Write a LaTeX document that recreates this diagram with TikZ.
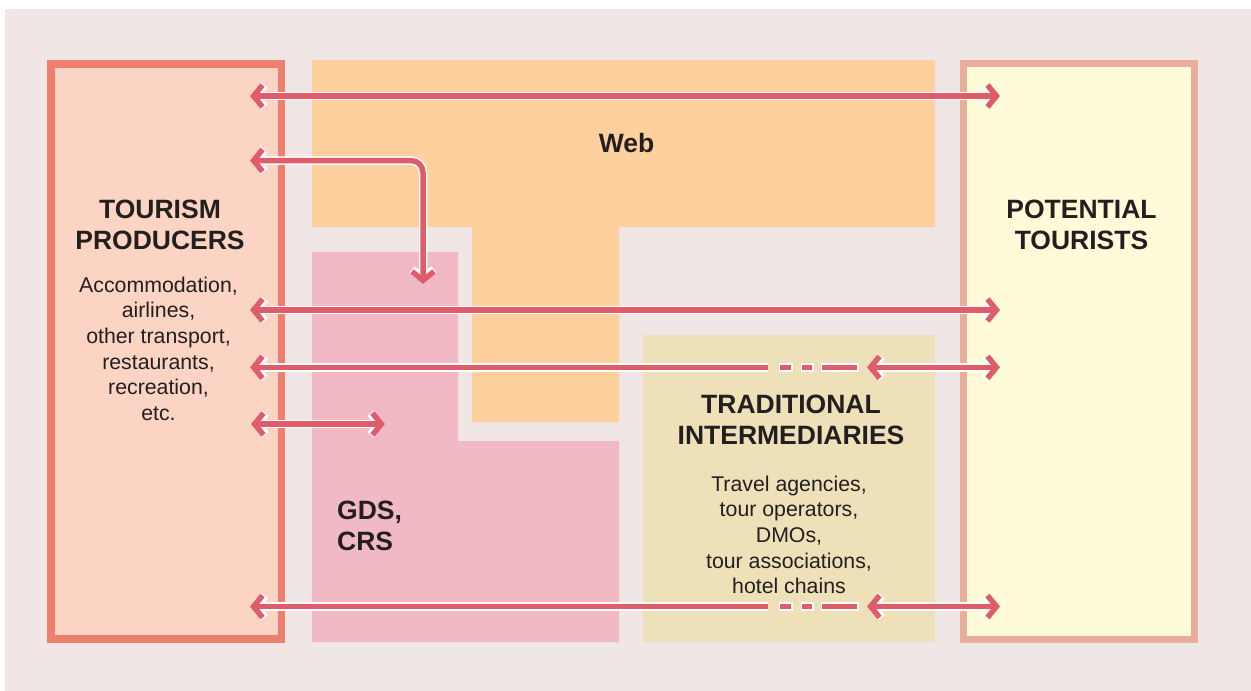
\documentclass[tikz,border=0pt]{standalone}
\usepackage{fontspec}
\setmainfont{Liberation Sans}
\usetikzlibrary{arrows.meta}
\definecolor{bgc}{HTML}{EFE6E5}
\definecolor{prodB}{HTML}{EC7F6E}
\definecolor{prodF}{HTML}{FBD4C3}
\definecolor{webc}{HTML}{FED09E}
\definecolor{gdsc}{HTML}{F0B9C4}
\definecolor{tradc}{HTML}{EEE0B8}
\definecolor{touB}{HTML}{E9AE99}
\definecolor{touF}{HTML}{FFFAD7}
\definecolor{arrc}{HTML}{DF5C6B}
\definecolor{txt}{HTML}{231F20}
\tikzset{
  head/.style={font=\fontsize{26.5}{31}\selectfont\bfseries, text=txt, align=center, inner sep=0pt},
  body/.style={font=\fontsize{21.3}{25.7}\selectfont, text=txt, align=center, inner sep=0pt},
  halo/.style={draw=white, line width=8.5pt},
  arr/.style={draw=arrc, line width=5.5pt},
  >={Straight Barb[length=9pt,width=22pt]}
}
\begin{document}
\begin{tikzpicture}[x=1pt,y=-1pt]
\useasboundingbox (0,0) rectangle (1251,691);
\fill[bgc] (5,9) rectangle (1251,691);
% regions
\draw[line width=7.5pt, draw=prodB, fill=prodF] (51,63.75) rectangle (281.25,638.75);
\fill[webc] (312,60) -- (935,60) -- (935,227) -- (619,227) -- (619,422) -- (472,422) -- (472,227) -- (312,227) -- cycle;
\fill[gdsc] (312,252) -- (458,252) -- (458,441) -- (619,441) -- (619,642) -- (312,642) -- cycle;
\fill[tradc] (643,335) rectangle (935,642);
\draw[line width=7pt, draw=touB, fill=touF] (963.5,63.5) rectangle (1194.5,639.2);
% texts
\node[head, anchor=north] (prodh) at (160,200.2) {TOURISM\\PRODUCERS};
\node[body, anchor=north] (prodb) at (158.5,276.5) {Accommodation,\\airlines,\\other transport,\\restaurants,\\recreation,\\etc.};
\node[head, anchor=north] (touh) at (1081.5,200.2) {POTENTIAL\\TOURISTS};
\node[head, anchor=base] (web) at (626.5,152) {Web};
\node[head, anchor=north] (tradh) at (791,394.5) {TRADITIONAL\\INTERMEDIARIES};
\node[body, anchor=north] (tradb) at (789,475.5) {Travel agencies,\\tour operators,\\DMOs,\\tour associations,\\hotel chains};
\node[head, anchor=north west, align=left] (gds) at (337,500.5) {GDS,\\CRS};
% connector end points
\coordinate (a1l) at (250,96);   \coordinate (a1r) at (1000,96);
\coordinate (a2l) at (250,160.5); \coordinate (a2e) at (423,284);
\coordinate (a3l) at (250,310);  \coordinate (a3r) at (1000,310);
\coordinate (a4l) at (250,367.3); \coordinate (a4m) at (768,367.3);
\coordinate (a4d1) at (780,367.3); \coordinate (a4d2) at (791,367.3);
\coordinate (a4d3) at (802,367.3); \coordinate (a4d4) at (812,367.3);
\coordinate (a4d5) at (822,367.3); \coordinate (a4d6) at (857,367.3);
\coordinate (a4t) at (867,367.3); \coordinate (a4r) at (1000,367.3);
\coordinate (a5l) at (251,424);  \coordinate (a5r) at (385,424);
\coordinate (a6l) at (250,606.5); \coordinate (a6m) at (768,606.5);
\coordinate (a6d1) at (780,606.5); \coordinate (a6d2) at (791,606.5);
\coordinate (a6d3) at (802,606.5); \coordinate (a6d4) at (812,606.5);
\coordinate (a6d5) at (822,606.5); \coordinate (a6d6) at (857,606.5);
\coordinate (a6t) at (867,606.5); \coordinate (a6r) at (1000,606.5);
% connectors: white halo first, then red
\foreach \s in {halo,arr}{
  \draw[\s,<->] (a1l) -- (a1r);
  \draw[\s,<->,rounded corners=12pt] (a2l) -| (a2e);
  \draw[\s,<->] (a3l) -- (a3r);
  \draw[\s,<-] (a4l) -- (a4m);
  \draw[\s,<->] (a4t) -- (a4r);
  \draw[\s,<->] (a5l) -- (a5r);
  \draw[\s,<-] (a6l) -- (a6m);
  \draw[\s,<->] (a6t) -- (a6r);
}
\foreach \s/\e in {-1.5pt/halo,0pt/arr}{
  \draw[\e,shorten <=\s,shorten >=\s] (a4d1) -- (a4d2);
  \draw[\e,shorten <=\s,shorten >=\s] (a4d3) -- (a4d4);
  \draw[\e,shorten <=\s,shorten >=\s] (a4d5) -- (a4d6);
  \draw[\e,shorten <=\s,shorten >=\s] (a6d1) -- (a6d2);
  \draw[\e,shorten <=\s,shorten >=\s] (a6d3) -- (a6d4);
  \draw[\e,shorten <=\s,shorten >=\s] (a6d5) -- (a6d6);
}
\end{tikzpicture}
\end{document}
